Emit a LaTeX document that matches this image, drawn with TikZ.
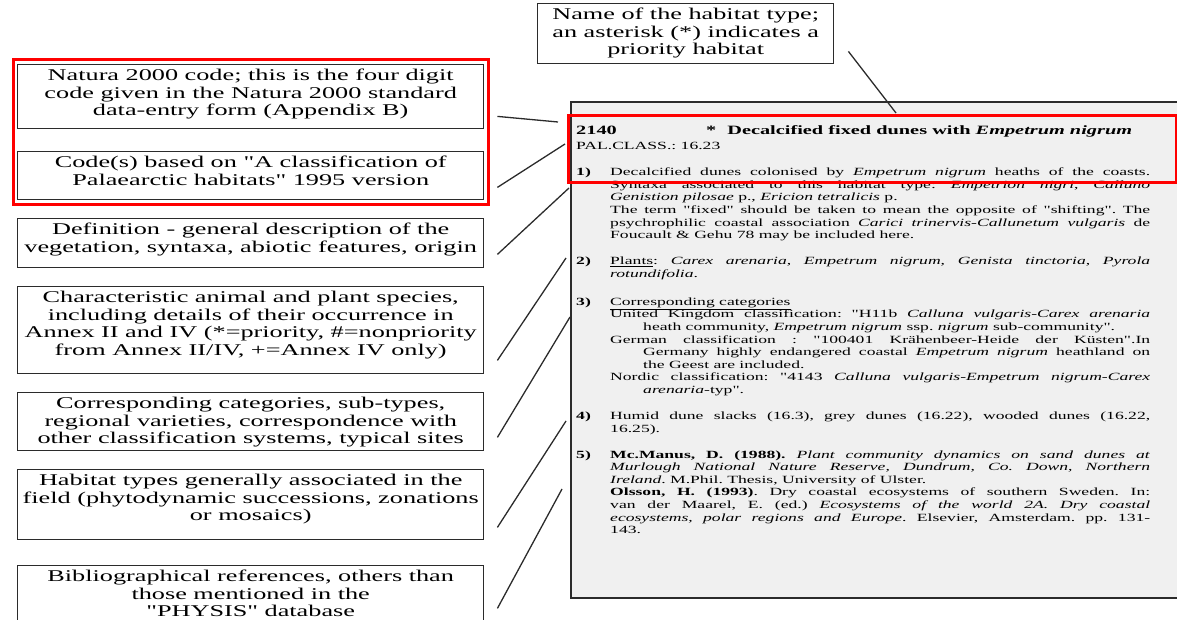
\documentclass[tikz,border=0pt]{standalone}
\usepackage{fontspec}
\setmainfont{Liberation Serif}[FakeStretch=1.6, Ligatures=TeXOff]
\usetikzlibrary{positioning, fit}
\definecolor{framered}{HTML}{FF0000}
\definecolor{inkgray}{HTML}{2B2B2B}
\definecolor{sheetgray}{HTML}{F0F0F0}
\newcommand{\descfont}{\fontsize{16.4}{17.5}\selectfont}
\newcommand{\entryfont}{\fontsize{11}{12.6}\selectfont\frenchspacing}
\newcommand{\headfont}{\fontsize{12.7}{15}\selectfont\bfseries}
\newcommand{\desctext}[3]{\parbox[c][#2][t]{#1}{\centering\vspace*{4pt}\strut#3}}
\newcommand{\entryno}[1]{\noindent\llap{\makebox[34pt][l]{\textbf{#1}}}}

\begin{document}
\begin{tikzpicture}[x=1pt, y=-1pt,
  descbox/.style={draw=inkgray, line width=1.4pt, inner sep=0pt, anchor=north west, font=\descfont},
  redframe/.style={draw=framered, line width=3pt, inner sep=4pt},
  leader/.style={draw=inkgray, line width=1.3pt}]

\useasboundingbox (0,0) rectangle (1177,620);

% Entry sheet
\node[draw=inkgray, line width=1.8pt, fill=sheetgray, inner sep=0pt, anchor=north west,
      minimum width=660pt, minimum height=496pt] (entry) at (570,101) {};

% Entry text
\node[anchor=north west, inner sep=0pt, text width=574pt, align=justify, font=\entryfont]
      (entrytext) at (576,123.7) {%
  {\headfont\strut\makebox[130pt][l]{2140}*\hspace{11pt}Decalcified fixed dunes with \textit{Empetrum nigrum}\par}
  \vspace{2.8pt}\noindent PAL.CLASS.: 16.23\par
  \leftskip=34pt
  \vspace{13.4pt}
  \entryno{1)}Decalcified dunes colonised by \textit{Empetrum nigrum} heaths of the coasts.\linebreak
  Syntaxa associated to this habitat type: \textit{Empetrion nigri}, \textit{Calluno}\linebreak
  \textit{Genistion pilosae} p., \textit{Ericion tetralicis} p.\newline
  The term "fixed" should be taken to mean the opposite of "shifting". The\linebreak
  psychrophilic coastal association \textit{Carici trinervis-Callunetum vulgaris} de\linebreak
  Foucault \& Gehu 78 may be included here.\par
  \vspace{13.4pt}
  \entryno{2)}\underline{Plants}: \textit{Carex arenaria, Empetrum nigrum, Genista tinctoria, Pyrola}\linebreak
  \textit{rotundifolia}.\par
  \vspace{15.4pt}
  \entryno{3)}\underline{Corresponding categories}\par
  \noindent\hangindent=33pt\hangafter=1 United Kingdom classification: "H11b \textit{Calluna vulgaris-Carex arenaria}\linebreak
  heath community, \textit{Empetrum nigrum} ssp. \textit{nigrum} sub-community".\par
  \noindent\hangindent=33pt\hangafter=1 German classification : "100401 Krähenbeer-Heide der Küsten".In\linebreak
  Germany highly endangered coastal \textit{Empetrum nigrum} heathland on\linebreak
  the Geest are included.\par
  \noindent\hangindent=33pt\hangafter=1 Nordic classification: "4143 \textit{Calluna vulgaris-Empetrum nigrum-Carex}\linebreak
  \textit{arenaria}-typ".\par
  \vspace{13.4pt}
  \entryno{4)}Humid dune slacks (16.3), grey dunes (16.22), wooded dunes (16.22,\linebreak
  16.25).\par
  \vspace{13.4pt}
  \entryno{5)}\textbf{Mc.Manus, D. (1988).} \textit{Plant community dynamics on sand dunes at}\linebreak
  \textit{Murlough National Nature Reserve, Dundrum, Co. Down, Northern}\linebreak
  \textit{Ireland}. M.Phil. Thesis, University of Ulster.\newline
  \textbf{Olsson, H. (1993)}. Dry coastal ecosystems of southern Sweden. In:\linebreak
  van der Maarel, E. (ed.) \textit{Ecosystems of the world 2A. Dry coastal}\linebreak
  \textit{ecosystems, polar regions and Europe}. Elsevier, Amsterdam. pp. 131-\linebreak
  143.\par};

% Header frame
\node[redframe, inner sep=0pt, anchor=north west, minimum width=608pt, minimum height=67pt]
      (headframe) at (567,114) {};

% Description boxes
\node[descbox] (habname) at (537,3) {\desctext{296pt}{60pt}{Name of the habitat type;\\
      an asterisk (*) indicates a\\priority habitat}};
\node[descbox] (natura) at (17,64) {\desctext{466pt}{64pt}{Natura 2000 code; this is the four digit\\
      code given in the Natura 2000 standard\\data-entry form (Appendix B)}};
\node[descbox] (palcode) at (17,151) {\desctext{466pt}{48pt}{Code(s) based on "A classification of\\
      Palaearctic habitats" 1995 version}};
\node[descbox] (defin) at (17,218) {\desctext{466pt}{49pt}{Definition - general description of the\\
      vegetation, syntaxa, abiotic features, origin}};
\node[descbox] (species) at (17,286) {\desctext{466pt}{87pt}{Characteristic animal and plant species,\\
      including details of their occurrence in\\Annex II and IV (*=priority, \#=nonpriority\\
      from Annex II/IV, +=Annex IV only)}};
\node[descbox] (corresp) at (17,392) {\desctext{466pt}{58pt}{Corresponding categories, sub-types,\\
      regional varieties, correspondence with\\other classification systems, typical sites}};
\node[descbox] (assoc) at (17,469) {\desctext{466pt}{70pt}{Habitat types generally associated in the\\
      field (phytodynamic successions, zonations\\or mosaics)}};
\node[descbox] (biblio) at (17,565) {\desctext{466pt}{58pt}{Bibliographical references, others than\\
      those mentioned in the\\"PHYSIS" database}};

% Code frame
\node[redframe, fit=(natura)(palcode)] (codeframe) {};

% Leader ends
\coordinate (tHead) at (896,113);
\coordinate (tNatura) at (558,122);
\coordinate (tPal) at (565,144);
\coordinate (tDefin) at (569,188);
\coordinate (tSpecies) at (566,258);
\coordinate (tCorresp) at (570,317);
\coordinate (tAssoc) at (566,421);
\coordinate (tBiblio) at (562,489);

% Leaders
\draw[leader] ([xshift=14pt,yshift=13pt]habname.south east) -- (tHead);
\foreach \src/\sy/\tgt in {natura/13/tNatura, palcode/13/tPal, defin/14/tDefin,
    species/14/tSpecies, corresp/14/tCorresp, assoc/13/tAssoc, biblio/16/tBiblio}
  \draw[leader] ([xshift=13pt,yshift=\sy pt]\src.south east) -- (\tgt);

\end{tikzpicture}
\end{document}
